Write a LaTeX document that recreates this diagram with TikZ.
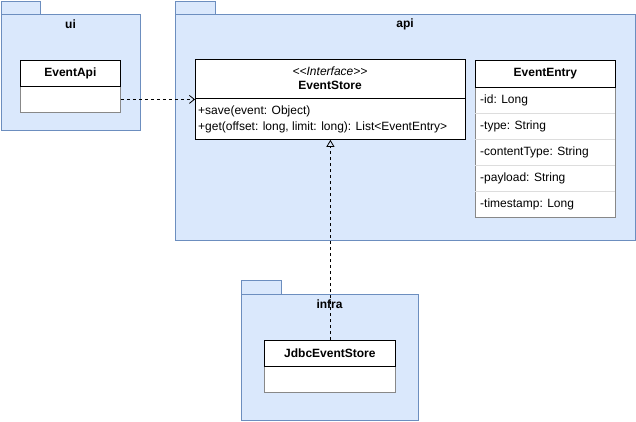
\documentclass[tikz,border=0pt]{standalone}
\usepackage{fontspec}
\setmainfont{Liberation Sans}
\usetikzlibrary{arrows.meta}
\definecolor{pkgfill}{HTML}{DAE8FC}
\definecolor{pkgline}{HTML}{6C8EBF}
\definecolor{rowline}{HTML}{888888}
\definecolor{rowsep}{HTML}{DDDDDD}
\tikzset{
  pkg/.style={draw=pkgline, fill=pkgfill, line width=0.8pt},
  pkglabel/.style={font=\bfseries\fontsize{12}{14}\selectfont, inner sep=0pt},
  header/.style={draw=black, fill=white, line width=0.8pt, anchor=north west, inner sep=0pt},
  body/.style={draw=rowline, fill=white, line width=0.8pt, anchor=north west, inner sep=0pt},
  title/.style={font=\bfseries\fontsize{12}{14}\selectfont, inner sep=0pt},
  member/.style={font=\fontsize{12}{14}\selectfont, inner sep=0pt, anchor=west},
  dep/.style={dashed, dash pattern=on 3pt off 3pt, line width=0.8pt},
}
\begin{document}
\begin{tikzpicture}[x=1pt, y=-1pt]
\useasboundingbox (0,0) rectangle (636,421);

% package ui
\draw[pkg] (1,1) rectangle (40,14);
\draw[pkg] (1,14) rectangle (140,130);
\node[pkglabel] (uilbl) at (70.5,24) {ui};

% package api
\draw[pkg] (175,1) rectangle (215,14);
\draw[pkg] (175,14) rectangle (635,240);
\node[pkglabel] (apilbl) at (405,24) {api};

% package infra
\draw[pkg] (241,280) rectangle (281,294);
\draw[pkg] (241,294) rectangle (418,420);
\node[pkglabel] (infralbl) at (329.5,304) {infra};

% class EventApi
\node[body, minimum width=100, minimum height=26] (apibody) at (20,86) {};
\node[header, minimum width=100, minimum height=26] (apihead) at (20,60) {};
\node[title] at (apihead.center) {EventApi};

% interface EventStore
\node[header, minimum width=270, minimum height=80] (store) at (195,59) {};
\draw[line width=0.8pt] (195,98) -- (465,98);
\node[inner sep=0pt, font=\itshape\fontsize{12}{14}\selectfont] at (330,71) {{<}{<}Interface{>}{>}};
\node[title] at (330,85) {EventStore};
\node[member] at (198,111) {+save(event: Object)};
\node[member] at (198,127) {+get(offset: long, limit: long): List{<}EventEntry{>}};

% class EventEntry
\node[body, minimum width=140, minimum height=130] (entrybody) at (475,87) {};
\foreach \yy in {113,139,165,191} \draw[rowsep, line width=0.8pt] (475.4,\yy) -- (614.6,\yy);
\node[header, minimum width=140, minimum height=27] (entryhead) at (475,60) {};
\node[title] at (entryhead.center) {EventEntry};
\node[member] at (480,100) {-id: Long};
\node[member] at (480,126) {-type: String};
\node[member] at (480,152) {-contentType: String};
\node[member] at (480,178) {-payload: String};
\node[member] at (480,204) {-timestamp: Long};

% class JdbcEventStore
\node[body, minimum width=131, minimum height=26] (jdbcbody) at (264,366) {};
\node[header, minimum width=131, minimum height=26] (jdbchead) at (264,340) {};
\node[title] at (jdbchead.center) {JdbcEventStore};

% usage dependency and realization
\draw[dep, -{Straight Barb[length=5pt, width=8pt]}] (apibody.east) -- (store.west);
\draw[dep, -{Triangle[open, length=7pt, width=8pt]}] (jdbchead.north -| store.south) -- (store.south);
\end{tikzpicture}
\end{document}
